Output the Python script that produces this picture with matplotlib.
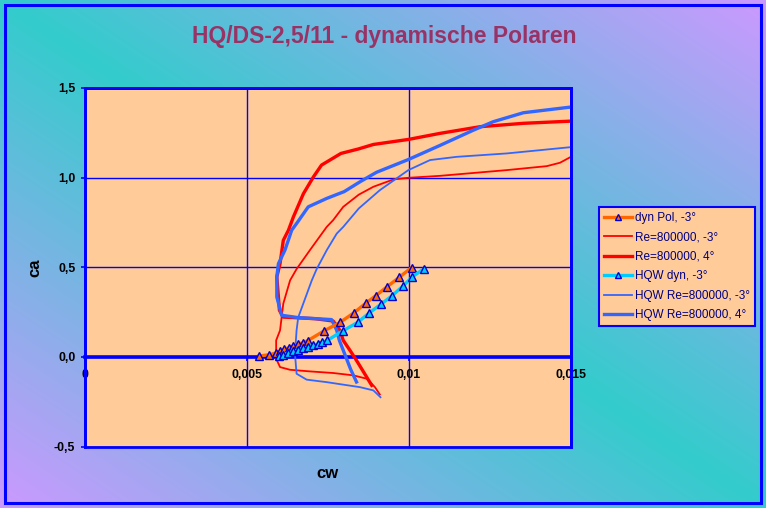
import numpy as np
import matplotlib
matplotlib.use("Agg")
import matplotlib.pyplot as plt
from matplotlib.patches import Rectangle
from matplotlib.colors import to_rgb

plt.rcParams['font.family'] = ['Liberation Sans', 'DejaVu Sans']

# ---------------- data ----------------
title = "HQ/DS-2,5/11 - dynamische Polaren"
x_label = "cw"
y_label = "ca"
x_ticks = [0, 0.005, 0.01, 0.015]
x_ticklabels = ["0", "0,005", "0,01", "0,015"]
y_ticks = [-0.5, 0.0, 0.5, 1.0, 1.5]
y_ticklabels = ["-0,5", "0,0", "0,5", "1,0", "1,5"]

labels = ["dyn Pol, -3°", "Re=800000, -3°", "Re=800000, 4°",
          "HQW dyn, -3°", "HQW Re=800000, -3°", "HQW Re=800000, 4°"]

dyn_cw = [0.00537, 0.00569, 0.00589, 0.00602, 0.00615, 0.00630, 0.00643, 0.00656,
          0.00672, 0.00687, 0.00738, 0.00787, 0.00830, 0.00867, 0.00898, 0.00933,
          0.00970, 0.01008]
dyn_ca = [0.005, 0.012, 0.022, 0.032, 0.042, 0.052, 0.061, 0.070,
          0.079, 0.090, 0.145, 0.192, 0.246, 0.300, 0.342, 0.392,
          0.444, 0.498]

re_m3_cw = [0.0151, 0.01466, 0.01425, 0.01302, 0.01096, 0.00998, 0.00952, 0.00890,
            0.00845, 0.00797, 0.00766, 0.00746, 0.00694, 0.00653, 0.00633, 0.00612,
            0.00602, 0.00590, 0.00590, 0.00602, 0.00633, 0.00694, 0.00766, 0.00828,
            0.00870, 0.00895, 0.00910]
re_m3_ca = [1.126, 1.083, 1.064, 1.042, 1.010, 0.999, 0.990, 0.949,
            0.905, 0.837, 0.763, 0.725, 0.595, 0.490, 0.427, 0.297,
            0.148, 0.092, -0.010, -0.057, -0.072, -0.081, -0.090, -0.103,
            -0.122, -0.169, -0.210]

re_p4_cw = [0.0151, 0.01353, 0.01219, 0.01096, 0.00998, 0.00890, 0.00844, 0.00790,
            0.00730, 0.00705, 0.00674, 0.00643, 0.00628, 0.00612, 0.00602, 0.00592,
            0.00597, 0.00600, 0.00612, 0.00710, 0.00766, 0.00787, 0.00797, 0.00818,
            0.00838, 0.00855, 0.00885]
re_p4_ca = [1.316, 1.303, 1.284, 1.247, 1.213, 1.185, 1.160, 1.135,
            1.070, 1.004, 0.910, 0.780, 0.707, 0.650, 0.520, 0.446,
            0.334, 0.260, 0.222, 0.213, 0.200, 0.148, 0.092, 0.036,
            -0.020, -0.070, -0.159]

hqw_dyn_cw = [0.00600, 0.00612, 0.00628, 0.00642, 0.00658, 0.00672, 0.00688, 0.00703,
              0.00718, 0.00733, 0.00748, 0.00795, 0.00843, 0.00877, 0.00913, 0.00947,
              0.00982, 0.01010, 0.01047]
hqw_dyn_ca = [0.004, 0.012, 0.022, 0.031, 0.040, 0.048, 0.056, 0.064,
              0.072, 0.081, 0.092, 0.144, 0.194, 0.245, 0.293, 0.340,
              0.396, 0.446, 0.493]

hqw_m3_cw = [0.0151, 0.01302, 0.01147, 0.01065, 0.00998, 0.00910, 0.00845, 0.00797,
             0.00777, 0.00746, 0.00715, 0.00700, 0.00658, 0.00653, 0.00648, 0.00653,
             0.00684, 0.00746, 0.00849, 0.00890, 0.00912]
hqw_m3_ca = [1.172, 1.135, 1.116, 1.098, 1.042, 0.930, 0.828, 0.725,
             0.688, 0.595, 0.490, 0.427, 0.220, 0.148, 0.018, -0.094,
             -0.127, -0.141, -0.169, -0.187, -0.225]

hqw_p4_cw = [0.0151, 0.01353, 0.01260, 0.01199, 0.01096, 0.00998, 0.00900, 0.00849,
             0.00800, 0.00746, 0.00689, 0.00653, 0.00638, 0.00617, 0.00597, 0.00592,
             0.00592, 0.00607, 0.00658, 0.00761, 0.00777, 0.00785, 0.00805, 0.00820,
             0.00838]
hqw_p4_ca = [1.396, 1.362, 1.312, 1.265, 1.180, 1.101, 1.030, 0.977,
             0.922, 0.884, 0.837, 0.744, 0.707, 0.595, 0.520, 0.446,
             0.334, 0.232, 0.219, 0.208, 0.148, 0.092, 0.000, -0.070,
             -0.140]

# ---------------- figure ----------------
W, H = 766, 508
fig = plt.figure(figsize=(W / 100, H / 100), dpi=100)

# gradient background
bg = fig.add_axes([0, 0, 1, 1], zorder=-10)
u = np.linspace(0, 1, W)[None, :]
v = np.linspace(0, 1, H)[:, None]
t = np.clip(np.abs(u - v), 0, 1)
c1 = np.array(to_rgb("#33CCCC"))
c2 = np.array(to_rgb("#CC99FF"))
img = c1[None, None, :] + (c2 - c1)[None, None, :] * t[:, :, None]
bg.imshow(img, aspect='auto', extent=[0, 1, 0, 1], origin='upper')
bg.set_xlim(0, 1)
bg.set_ylim(0, 1)
bg.axis('off')
bg.add_patch(Rectangle((5 / W, 5 / H), 756 / W, 498 / H, fill=False,
                       edgecolor='#0000FF', lw=2.2, transform=bg.transAxes))

# main axes
left, right = 85 / W, 571 / W
top, bottom = 1 - 88 / H, 1 - 446.5 / H
ax = fig.add_axes([left, bottom, right - left, top - bottom], zorder=1)
ax.set_facecolor("#FFCC99")
ax.set_xlim(0, 0.015)
ax.set_ylim(-0.5, 1.5)

blue = "#0000FF"
ax.grid(True, color=blue, lw=1.0)
ax.set_axisbelow(True)

for s in ['top', 'left', 'right']:
    ax.spines[s].set_color(blue)
    ax.spines[s].set_linewidth(2.0)
ax.spines['bottom'].set_position(('data', 0))
ax.spines['bottom'].set_color(blue)
ax.spines['bottom'].set_linewidth(2.6)
ax.add_patch(Rectangle((0, 0), 1, 1, transform=ax.transAxes, fill=False,
                       edgecolor=blue, lw=2.0, clip_on=False, zorder=5))

ax.set_xticks(x_ticks)
ax.set_xticklabels(x_ticklabels)
ax.set_yticks(y_ticks)
ax.set_yticklabels(y_ticklabels)
ax.tick_params(axis='both', direction='out', length=3, width=1.2, color=blue,
               labelsize=8.8, pad=4)
for lab in ax.get_xticklabels() + ax.get_yticklabels():
    lab.set_fontweight('bold')
ax.tick_params(axis='x', pad=6)

# curves
h2, = ax.plot(re_m3_cw, re_m3_ca, color="#FF0000", lw=1.3, label=labels[1], zorder=3)
h3, = ax.plot(re_p4_cw, re_p4_ca, color="#FF0000", lw=2.4, label=labels[2], zorder=3)
h5, = ax.plot(hqw_m3_cw, hqw_m3_ca, color="#3366FF", lw=1.3, label=labels[4], zorder=3)
h6, = ax.plot(hqw_p4_cw, hqw_p4_ca, color="#3366FF", lw=2.4, label=labels[5], zorder=3)
h1, = ax.plot(dyn_cw, dyn_ca, color="#FF6600", lw=2.4, marker='^', markersize=6,
              markerfacecolor="#FF6600", markeredgecolor="#0000CC", markeredgewidth=1.0,
              label=labels[0], zorder=4)
h4, = ax.plot(hqw_dyn_cw, hqw_dyn_ca, color="#00CCFF", lw=2.4, marker='^', markersize=6,
              markerfacecolor="#00CCFF", markeredgecolor="#0000CC", markeredgewidth=1.0,
              label=labels[3], zorder=4)

# texts
fig.text(384 / W, 1 - 37 / H, title, ha='center', va='center', fontsize=16.5,
         fontweight='bold', color="#993366")
fig.text(327 / W, 1 - 474 / H, x_label, ha='center', va='center', fontsize=12,
         fontweight='bold', color='black')
fig.text(35 / W, 1 - 268 / H, y_label, ha='center', va='center', fontsize=12,
         fontweight='bold', color='black', rotation=90)

leg = fig.legend([h1, h2, h3, h4, h5, h6], labels, loc='upper left',
                 bbox_to_anchor=(599 / W, 1 - 207 / H), borderaxespad=0,
                 fontsize=8.5, frameon=True, fancybox=False, framealpha=1,
                 facecolor="#FFCC99", edgecolor=blue, labelspacing=0.64,
                 handlelength=2.4, handletextpad=0.25, borderpad=0.4,
                 markerscale=0.8)
leg.get_frame().set_linewidth(1.5)
for txt in leg.get_texts():
    txt.set_color("#000080")

fig.savefig("out.png", dpi=100)
